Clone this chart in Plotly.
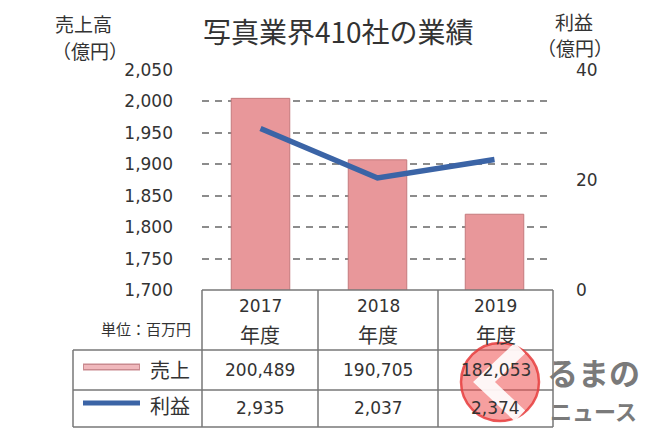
import plotly.graph_objects as go

# ---- data ----
years = ["2017", "2018", "2019"]
year_top = ["2017", "2018", "2019"]
year_bottom = ["年度", "年度", "年度"]
sales_million = [200489, 190705, 182053]   # 売上 (百万円)
profit_million = [2935, 2037, 2374]        # 利益 (百万円)
left_ticks = [1700, 1750, 1800, 1850, 1900, 1950, 2000, 2050]
right_ticks = [0, 20, 40]

sales_oku = [v / 100 for v in sales_million]
profit_oku = [v / 100 for v in profit_million]

OFF = 8  # page body margin
W, H = 650 - OFF, 433 - OFF
L, R, T, B = 202, 553, 70, 290  # plot area in reference pixels


def px(x):
    return (x - L) / (R - L)


def py(y):
    return (B - y) / (B - T)


FONT = "Noto Sans CJK JP"
NUM = "DejaVu Sans"
TXT = "#333333"

fig = go.Figure()
fig.add_trace(go.Bar(
    x=years, y=sales_oku, name="売上", yaxis="y",
    marker=dict(color="#E8979A", line=dict(color="#C47A7D", width=1)),
    width=0.5,
))
fig.add_trace(go.Scatter(
    x=years, y=profit_oku, name="利益", yaxis="y2", mode="lines",
    line=dict(color="#3B64A6", width=5.5),
))

shapes = []
annotations = []

# ---- table lines ----
col_x = [202, 318, 438, 553]
line_c = "#777777"


def hline(x0, x1, y):
    shapes.append(dict(type="line", xref="paper", yref="paper",
                       x0=px(x0), x1=px(x1), y0=py(y), y1=py(y),
                       line=dict(color=line_c, width=1.5)))


def vline(x, y0, y1):
    shapes.append(dict(type="line", xref="paper", yref="paper",
                       x0=px(x), x1=px(x), y0=py(y0), y1=py(y1),
                       line=dict(color=line_c, width=1.5)))


hline(202, 553, 290)
hline(73, 553, 350)
hline(73, 553, 390)
hline(73, 553, 427)
vline(73, 350, 427)
for cx in col_x:
    vline(cx, 290, 427)

# legend samples in table
shapes.append(dict(type="line", xref="paper", yref="paper",
                   x0=px(83), x1=px(140), y0=py(367), y1=py(367),
                   line=dict(color="#C98A8F", width=7)))
shapes.append(dict(type="line", xref="paper", yref="paper",
                   x0=px(84), x1=px(139), y0=py(367), y1=py(367),
                   line=dict(color="#F0B8BC", width=4)))
shapes.append(dict(type="line", xref="paper", yref="paper",
                   x0=px(83), x1=px(140), y0=py(403), y1=py(403),
                   line=dict(color="#3B64A6", width=5)))


def text(x, y, s, size, xanchor="center", color=TXT, family=FONT):
    annotations.append(dict(x=px(x), y=py(y), xref="paper", yref="paper",
                            text=s, showarrow=False, xanchor=xanchor,
                            yanchor="middle",
                            font=dict(family=family, size=size, color=color)))


centers = [(col_x[i] + col_x[i + 1]) / 2 for i in range(3)]
for i, c in enumerate(centers):
    text(c, 306, year_top[i], 17, family=NUM)
    text(c, 334, year_bottom[i], 20)
    text(c, 370, f"{sales_million[i]:,}", 17, family=NUM)
    text(c, 408, f"{profit_million[i]:,}", 17, family=NUM)

text(193, 328, "単位：百万円", 15, xanchor="right")
text(192, 369, "売上", 20, xanchor="right")
text(192, 405, "利益", 20, xanchor="right")

# title and axis titles
text(338, 31, "写真業界410社の業績", 28)
text(53, 23, "売上高", 19, xanchor="left")
text(50, 50, "（億円）", 19, xanchor="left")
text(574, 22, "利益", 19)
text(575, 48, "（億円）", 19)

# ---- watermark logo ----
cx, cy, r = 500, 382, 39
shapes.append(dict(type="circle", xref="paper", yref="paper",
                   x0=px(cx - r), x1=px(cx + r), y0=py(cy + r), y1=py(cy - r),
                   fillcolor="rgba(238,80,80,0.55)",
                   line=dict(color="rgba(230,60,60,0.85)", width=2.5)))
shapes.append(dict(type="path", xref="paper", yref="paper",
                   path=f"M {px(520)} {py(348)} L {px(484)} {py(382)} L {px(520)} {py(416)}",
                   line=dict(color="rgba(255,255,255,0.9)", width=15)))
text(593, 371, "<b>るまの</b>", 31, color="#7a7a7a")
text(593, 410, "<b>ニュース</b>", 22, color="#7a7a7a")

fig.update_layout(
    width=W, height=H,
    margin=dict(l=L - OFF, r=650 - R, t=T - OFF, b=433 - B, pad=0),
    paper_bgcolor="white", plot_bgcolor="white",
    showlegend=False,
    font=dict(family=FONT, color=TXT),
    xaxis=dict(type="category", showticklabels=False, showgrid=False,
               zeroline=False, showline=False, ticks=""),
    yaxis=dict(range=[1700, 2050], tickvals=left_ticks, tickformat=",d",
               showgrid=True, gridcolor="#8c8c8c", gridwidth=1.5,
               griddash="7px,6px", zeroline=False, showline=False,
               ticks="", ticklabelstandoff=28,
               tickfont=dict(family=NUM, size=17, color=TXT)),
    yaxis2=dict(range=[0, 40], tickvals=right_ticks, overlaying="y",
                side="right", showgrid=False, zeroline=False,
                showline=False, ticks="", ticklabelstandoff=22,
                tickfont=dict(family=NUM, size=17, color=TXT)),
    shapes=shapes,
    annotations=annotations,
)

fig.write_html("out.html")
